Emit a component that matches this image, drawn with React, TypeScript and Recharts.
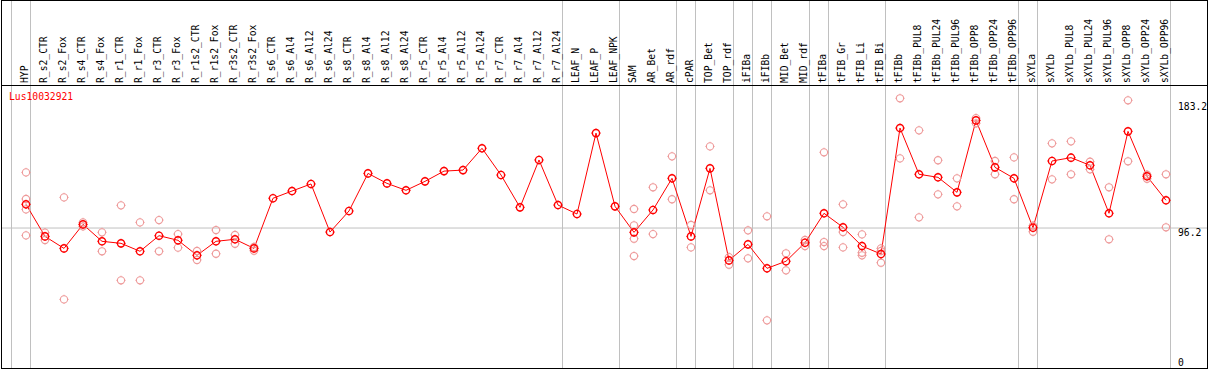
import { ComposedChart, Line, XAxis, YAxis, ReferenceLine } from "recharts";

const categories = [
  "HYP", "R_s2_CTR", "R_s2_Fox", "R_s4_CTR", "R_s4_Fox", "R_r1_CTR", "R_r1_Fox", "R_r3_CTR", "R_r3_Fox",
  "R_r1s2_CTR", "R_r1s2_Fox", "R_r3s2_CTR", "R_r3s2_Fox", "R_s6_CTR", "R_s6_Al4", "R_s6_Al12", "R_s6_Al24",
  "R_s8_CTR", "R_s8_Al4", "R_s8_Al12", "R_s8_Al24", "R_r5_CTR", "R_r5_Al4", "R_r5_Al12", "R_r5_Al24",
  "R_r7_CTR", "R_r7_Al4", "R_r7_Al12", "R_r7_Al24", "LEAF_N", "LEAF_P", "LEAF_NPK", "SAM", "AR_Bet", "AR_rdf",
  "cPAR", "TOP_Bet", "TOP_rdf", "iFIBa", "iFIBb", "MID_Bet", "MID_rdf", "tFIBa", "tFIB_Gr", "tFIB_Li", "tFIB_Bi",
  "tFIBb", "tFIBb_PUL8", "tFIBb_PUL24", "tFIBb_PUL96", "tFIBb_OPP8", "tFIBb_OPP24", "tFIBb_OPP96",
  "sXYLa", "sXYLb", "sXYLb_PUL8", "sXYLb_PUL24", "sXYLb_PUL96", "sXYLb_OPP8", "sXYLb_OPP24", "sXYLb_OPP96",
];

// mean expression per sample
const meanExpr = [
  112.6, 90.4, 82.1, 98.7, 87.0, 85.6, 80.1, 90.9, 87.7, 77.3, 87.0, 88.4, 82.1, 116.8, 121.8, 126.7, 93.4,
  108.0, 134.0, 127.1, 122.3, 128.5, 135.6, 136.3, 151.4, 132.9, 110.5, 143.3, 112.1, 105.9, 161.9, 111.2,
  93.2, 108.7, 130.6, 90.4, 137.5, 73.8, 84.9, 68.3, 73.2, 86.0, 106.4, 96.7, 83.7, 78.2,
  165.4, 133.4, 131.3, 120.9, 170.7, 138.2, 130.6, 96.4, 142.6, 144.9, 139.6, 106.4, 163.1, 132.0, 115.4,
];

const N = null;
// individual replicates
const rep1 = [
  134.7, 93.0, 117.4, 100.1, 93.2, 111.9, 100.1, 101.7, 92.0, 80.3, 94.8, 91.4, 83.1,
  N, N, N, N, N, N, N, N, N, N, N, N, N, N, N, N, N, N, N,
  109.4, 124.4, 145.8, 98.3, 152.7, 76.1, 94.6, 104.3, 78.7, 87.9, 148.6, 112.6, 91.8, 82.1,
  186.0, 163.8, 143.1, 130.6, 172.3, 142.6, 145.1, 97.8, 154.8, 156.2, 142.1, 124.4, 184.6, 133.1, 133.4,
];
const rep2 = [
  116.3, 87.9, 46.8, 97.3, 80.1, 60.0, 60.0, 80.1, 82.6, 74.1, 78.4, 85.3, 80.5,
  N, N, N, N, N, N, N, N, N, N, N, N, N, N, N, N, N, N, N,
  98.1, 92.0, 116.1, 82.8, 122.3, 70.8, 75.2, 32.3, 66.9, 83.7, 86.5, 93.4, 79.1, 80.3,
  144.4, 103.6, 119.5, 111.2, 168.7, 133.4, 116.1, 93.6, 129.9, 133.4, 136.8, 88.4, 142.4, 130.3, 96.7,
];
const rep3 = [
  109.1, N, N, N, N, N, N, N, N, N, N, N, N,
  N, N, N, N, N, N, N, N, N, N, N, N, N, N, N, N, N, N, N,
  88.8, N, N, N, N, N, N, N, N, N, 83.7, 82.8, 77.3, 72.2,
  N, N, N, N, N, N, N, N, N, N, N, N, N, N, N,
];
const rep4 = [
  91.1, N, N, N, N, N, N, N, N, N, N, N, N,
  N, N, N, N, N, N, N, N, N, N, N, N, N, N, N, N, N, N, N,
  76.8, N, N, N, N, N, N, N, N, N, N, N, N, N,
  N, N, N, N, N, N, N, N, N, N, N, N, N, N, N,
];

// last sample index of each group (grey separators drawn after these)
const groupEnds = [-1, 0, 28, 31, 34, 35, 37, 38, 39, 41, 42, 45, 52, 53, 60];
const yTicks = [0, 96.2, 183.2];

const data = categories.map((name, i) => ({
  idx: i,
  name,
  mean: meanExpr[i],
  rep1: rep1[i],
  rep2: rep2[i],
  rep3: rep3[i],
  rep4: rep4[i],
}));

const FONT = "'DejaVu Sans Mono', monospace";

const makeDot = (color: string, width: number) => (props: any) => {
  const { cx, cy, index } = props;
  if (cx == null || cy == null || props.value == null) return <g key={`d-${index}`} />;
  const r = 3.6;
  return (
    <g key={`d-${index}`} stroke={color} strokeWidth={width} fill="none">
      <circle cx={cx} cy={cy} r={r} />
      <line x1={cx} y1={cy - r - 1} x2={cx} y2={cy - r} strokeWidth={1} />
      <line x1={cx} y1={cy + r} x2={cx} y2={cy + r + 1} strokeWidth={1} />
      <line x1={cx - r - 1} y1={cy} x2={cx - r} y2={cy} strokeWidth={1} />
      <line x1={cx + r} y1={cy} x2={cx + r + 1} y2={cy} strokeWidth={1} />
    </g>
  );
};

const XTick = (props: any) => {
  const { x, payload } = props;
  const bx = x + 2;
  return (
    <text
      x={bx}
      y={83}
      transform={`rotate(-90 ${bx} 83)`}
      textAnchor="start"
      fontFamily={FONT}
      fontSize={9.7}
      fill="#000"
    >
      {categories[payload.value]}
    </text>
  );
};

const YTick = (props: any) => {
  const { y, payload } = props;
  return (
    <text x={1178} y={Math.min(y + 8, 365.5)} textAnchor="start" fontFamily={FONT} fontSize={9.7} fill="#000">
      {payload.value}
    </text>
  );
};

const repDot = makeDot("#ee9a9a", 1.1);
const meanDot = makeDot("#ff0000", 1.4);

export default function App() {
  return (
    <div style={{ position: "absolute", left: 0, top: 0, width: 1209, height: 370, background: "#fff" }}>
      <style>{`body{margin:0}`}</style>
      <ComposedChart width={1209} height={370} data={data} margin={{ top: 0, right: 1, bottom: 3, left: 2 }}>
        <XAxis
          dataKey="idx"
          type="number"
          orientation="top"
          height={85}
          domain={[-24 / 19, -24 / 19 + 1205 / 19]}
          ticks={categories.map((_, i) => i)}
          interval={0}
          allowDataOverflow
          axisLine={false}
          tickLine={false}
          tick={<XTick />}
        />
        <YAxis
          orientation="right"
          width={1}
          domain={[0, 195.2]}
          ticks={yTicks}
          interval={0}
          axisLine={false}
          tickLine={false}
          tick={<YTick />}
        />
        <ReferenceLine y={96.2} stroke="#c0c0c0" strokeWidth={1} />
        {groupEnds.map((e) => (
          <ReferenceLine
            key={e}
            segment={[
              { x: e + 4.5 / 19, y: -1 },
              { x: e + 4.5 / 19, y: 260 },
            ]}
            ifOverflow="visible"
            stroke="#c0c0c0"
            strokeWidth={1}
          />
        ))}
        {["rep1", "rep2", "rep3", "rep4"].map((k) => (
          <Line
            key={k}
            dataKey={k}
            stroke="none"
            dot={repDot}
            activeDot={false}
            isAnimationActive={false}
            legendType="none"
          />
        ))}
        <Line
          dataKey="mean"
          stroke="#ff0000"
          strokeWidth={1}
          dot={meanDot}
          activeDot={false}
          isAnimationActive={false}
        />
      </ComposedChart>
      <div style={{ position: "absolute", left: 9, top: 91, fontFamily: FONT, fontSize: 9.7, lineHeight: "12px", color: "#ff0000" }}>
        Lus10032921
      </div>
      <div style={{ position: "absolute", left: 1, top: 0, width: 1207, height: 1, background: "#000" }} />
      <div style={{ position: "absolute", left: 1, top: 85, width: 1207, height: 1, background: "#000" }} />
      <div style={{ position: "absolute", left: 1, top: 368, width: 1207, height: 1, background: "#000" }} />
      <div style={{ position: "absolute", left: 1, top: 0, width: 1, height: 369, background: "#000" }} />
      <div style={{ position: "absolute", left: 1207, top: 0, width: 1, height: 369, background: "#000" }} />
    </div>
  );
}
